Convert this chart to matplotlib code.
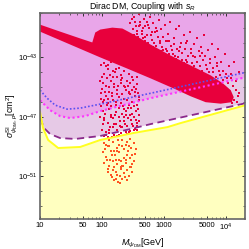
import numpy as np
import matplotlib
matplotlib.use("Agg")
import matplotlib.pyplot as plt
from matplotlib.ticker import FixedLocator, NullFormatter, FixedFormatter

plt.rcParams['font.family'] = ['Liberation Sans', 'DejaVu Sans']
plt.rcParams['mathtext.fontset'] = 'custom'
plt.rcParams['mathtext.rm'] = 'Liberation Sans'
plt.rcParams['mathtext.it'] = 'Liberation Sans:italic'

# ---- limit curves (log10 M [GeV], log10 sigma [cm^2]) ----
blue_lm = [1.0, 1.113, 1.243, 1.438, 1.648, 1.972, 2.783, 3.593, 4.32]
blue_ls = [-45.21, -45.75, -46.22, -46.49, -46.42, -46.15, -45.42, -44.68, -44.01]

mag_lm = [1.0, 1.162, 1.324, 1.486, 1.729, 1.972, 2.783, 3.593, 4.32]
mag_ls = [-45.89, -46.56, -46.96, -47.09, -46.96, -46.62, -45.75, -45.01, -44.34]

dash_lm = [1.0, 1.065, 1.162, 1.324, 1.567, 1.972, 2.459, 2.783, 3.593, 4.32]
dash_ls = [-47.09, -47.77, -48.17, -48.44, -48.50, -48.30, -47.83, -47.50, -46.76, -46.09]

yel_lm = [1.0, 1.049, 1.130, 1.292, 1.648, 1.972, 2.507, 3.058, 3.269, 4.32]
yel_ls = [-46.69, -47.77, -48.57, -49.11, -49.04, -48.57, -48.10, -47.70, -47.43, -46.22]

# ---- dense scan band (outline) ----
band_lm = [1.0, 1.324, 1.648, 1.843, 1.891, 1.972, 2.167, 2.329, 2.540, 2.783, 3.107,
           3.431, 3.755, 3.950, 4.079, 4.128, 4.096,
           3.917, 3.674, 3.431, 3.188, 2.783, 2.378, 1.972, 1.486, 1.0]
band_ls = [-40.79, -41.26, -41.72, -41.99, -41.32, -41.12, -40.99, -41.05, -41.52, -42.13, -42.87,
           -43.54, -44.21, -44.74, -45.21, -45.68, -46.02,
           -46.12, -46.02, -45.62, -45.15, -44.41, -43.70, -43.00, -42.13, -41.26]

# ---- scattered scan points ----
strip_lm = [1.98, 2.03, 2.09, 2.15, 2.21, 2.26, 2.33, 2.39, 2.45, 2.52, 2.58,
            2.00, 2.06, 2.12, 2.18, 2.24, 2.30, 2.36, 2.42, 2.48, 2.55,
            1.99, 2.05, 2.11, 2.17, 2.23, 2.29, 2.35, 2.41, 2.47, 2.53, 2.59,
            2.01, 2.07, 2.13, 2.19, 2.25, 2.31, 2.37, 2.44, 2.50, 2.57,
            2.03, 2.10, 2.16, 2.27, 2.40, 2.08, 2.27, 2.43, 2.14, 2.36, 2.49, 2.56,
            2.02, 2.20, 2.32, 2.46, 2.59, 1.98, 2.09, 2.27, 2.38, 2.52, 2.14, 2.20,
            2.33, 2.46, 2.56, 2.04, 1.97, 2.11, 2.24, 2.40, 2.53, 2.06, 2.17, 2.30,
            2.44, 2.35, 2.22, 2.02, 2.60, 2.49, 2.12, 2.28, 2.42, 2.16, 2.05, 2.57]
strip_ls = [-43.5, -44.1, -43.8, -44.6, -44.0, -44.9, -44.4, -45.2, -44.7, -45.0, -45.4,
            -45.1, -45.6, -45.3, -45.9, -45.5, -46.1, -45.8, -46.4, -46.0, -46.6,
            -46.3, -46.8, -46.5, -47.1, -46.7, -47.3, -47.0, -47.6, -47.2, -47.8, -46.9,
            -47.5, -48.0, -47.7, -48.2, -47.9, -48.1, -47.5, -48.0, -47.6, -47.4,
            -48.3, -48.4, -48.4, -48.25, -48.15, -44.4, -43.7, -44.1, -43.3, -43.9, -44.3, -44.3,
            -44.7, -45.0, -45.5, -45.5, -45.9, -45.8, -46.1, -46.4, -46.9, -46.3, -46.9, -47.5,
            -47.7, -47.95, -47.9, -47.2, -47.0, -45.0, -44.3, -44.6, -45.6, -43.6, -43.9, -44.7,
            -46.2, -46.5, -46.2, -46.0, -47.3, -46.8, -47.9, -47.0, -44.9, -45.6, -45.3, -46.2]

strip2_lm = [2.00, 2.07, 2.13, 2.19, 2.25, 2.31, 2.37, 2.43, 2.50, 2.56,
             1.98, 2.04, 2.10, 2.16, 2.22, 2.28, 2.34, 2.41, 2.47, 2.54, 2.60,
             2.01, 2.08, 2.14, 2.21, 2.27, 2.33, 2.39, 2.45, 2.51, 2.58,
             2.03, 2.09, 2.15, 2.22, 2.29, 2.35, 2.42, 2.48, 2.55,
             2.00, 2.06, 2.12, 2.18, 2.24, 2.31, 2.38, 2.44, 2.51, 2.57,
             1.97, 2.04, 2.10, 2.17, 2.23, 2.30, 2.36, 2.43, 2.49, 2.55]
strip2_ls = [-44.3, -44.9, -44.2, -44.8, -45.2, -44.5, -45.0, -45.4, -44.5, -44.8,
             -45.4, -45.9, -45.8, -45.4, -46.0, -45.7, -46.3, -45.9, -46.4, -45.3, -45.7,
             -46.6, -46.2, -46.3, -46.9, -46.4, -46.8, -46.6, -46.9, -47.0, -46.5,
             -47.1, -47.4, -47.0, -47.5, -47.6, -47.3, -47.1, -47.5, -47.2,
             -47.9, -48.2, -48.1, -47.7, -48.3, -47.7, -48.0, -48.1, -47.9, -47.6,
             -44.6, -43.4, -43.5, -44.3, -43.8, -44.2, -44.9, -45.3, -45.2, -45.1]

floor_lm = [2.03, 2.10, 2.18, 2.25, 2.32, 2.39, 2.46, 2.52,
            2.01, 2.07, 2.14, 2.21, 2.28, 2.35, 2.42, 2.49, 2.55,
            2.04, 2.11, 2.17, 2.24, 2.31, 2.38, 2.45, 2.51,
            2.09, 2.15, 2.22, 2.29, 2.36, 2.43, 2.48,
            2.19, 2.26, 2.33, 2.40,
            2.06, 2.28, 2.44, 2.13, 2.27, 2.40, 2.20, 2.34, 2.48, 2.12, 2.36, 2.23,
            2.05, 2.12, 2.19, 2.26, 2.33, 2.40, 2.47, 2.53,
            2.08, 2.16, 2.24, 2.31, 2.39, 2.46,
            2.10, 2.18, 2.25, 2.32, 2.41, 2.47,
            2.16, 2.23, 2.30, 2.37, 2.29]
floor_ls = [-48.8, -49.0, -48.7, -49.1, -48.6, -48.9, -48.5, -48.8,
            -49.4, -49.7, -49.3, -49.6, -49.4, -49.8, -49.3, -49.6, -49.2,
            -50.1, -50.3, -50.0, -50.2, -50.5, -50.1, -50.4, -50.0,
            -50.7, -50.9, -50.7, -51.0, -50.8, -51.0, -50.7,
            -51.3, -51.4, -51.2, -51.3,
            -48.9, -48.9, -49.0, -49.9, -49.9, -49.6, -50.4, -50.3, -50.2, -49.0, -49.2, -49.9,
            -49.2, -48.6, -49.3, -48.6, -49.0, -48.7, -49.1, -49.5,
            -49.9, -49.6, -49.3, -50.0, -49.9, -49.8,
            -50.5, -50.6, -50.9, -50.3, -50.6, -50.4,
            -51.1, -51.2, -50.4, -51.1, -51.5]

cloud_lm = [2.46, 2.50, 2.52, 2.55, 2.57, 2.60, 2.62, 2.64, 2.66, 2.68, 2.70, 2.72, 2.74, 2.76,
            2.78, 2.80, 2.83, 2.85, 2.87, 2.90, 2.92, 2.94, 2.96, 2.99, 3.01, 3.03, 3.05, 3.07,
            3.10, 3.12, 3.14, 3.16, 3.19, 3.21, 3.23, 3.25, 3.28, 3.30, 3.32, 3.35, 3.37, 3.39,
            3.42, 3.44, 3.46, 3.49, 3.51, 3.53, 3.56, 3.58, 3.60, 3.63, 3.65, 3.67, 3.70, 3.72,
            3.75, 3.77, 3.80, 3.82, 3.85, 3.87, 3.90, 3.93, 3.96, 3.99, 4.02, 4.05, 4.09, 4.13,
            4.17, 4.21,
            2.58, 2.70, 2.82, 2.95, 3.08, 3.20, 3.33, 3.45, 3.57, 3.69, 3.81, 3.93,
            2.64, 2.77, 2.90, 3.02, 3.15, 3.27, 3.40, 3.52, 3.64, 3.76, 3.88,
            4.16, 4.19, 4.14, 4.21, 4.18, 4.10]
cloud_ls = [-40.7, -41.1, -40.3, -40.9, -41.4, -40.1, -40.6, -41.2, -41.7, -40.4, -40.9, -41.5, -42.0, -41.0,
            -40.3, -41.8, -40.7, -41.3, -42.2, -41.6, -40.5, -42.0, -41.1, -42.5, -40.8, -41.9, -42.6, -41.4,
            -40.6, -42.2, -42.8, -41.7, -41.1, -42.4, -43.0, -40.9, -42.0, -42.7, -41.5, -43.2, -41.9, -42.9,
            -41.3, -42.4, -43.4, -42.1, -43.0, -41.7, -42.6, -43.6, -42.3, -43.2, -41.5, -42.9, -43.8, -42.5,
            -43.4, -42.1, -44.0, -43.0, -43.6, -42.4, -44.2, -43.3, -43.9, -42.8, -44.4, -43.6, -44.1, -43.3,
            -44.6, -44.0,
            -41.6, -41.9, -42.3, -42.6, -42.8, -43.1, -43.4, -43.7, -44.0, -44.3, -44.5, -44.8,
            -41.9, -42.4, -42.8, -43.0, -43.2, -43.5, -43.8, -44.1, -44.4, -44.7, -45.0,
            -45.2, -45.6, -45.9, -45.4, -46.0, -46.1]

cloud2_lm = [2.48, 2.53, 2.56, 2.61, 2.65, 2.69, 2.73, 2.79, 2.84, 2.88, 2.93, 2.97, 3.04, 3.09,
             3.13, 3.18, 3.24, 3.29, 3.34, 3.38, 3.43, 3.48, 3.54, 3.59, 3.62, 3.68, 3.73, 3.79,
             3.84, 3.89, 3.95, 4.00, 4.04, 4.08, 4.12,
             2.51, 2.59, 2.67, 2.75, 2.81, 2.89, 2.98, 3.06, 3.17, 3.26, 3.36, 3.47, 3.61, 3.74, 3.86]
cloud2_ls = [-40.4, -40.6, -41.2, -40.8, -41.4, -41.6, -40.6, -41.5, -42.0, -41.0, -41.9, -42.3, -42.4, -41.9,
             -42.5, -42.9, -42.6, -43.2, -42.4, -43.3, -42.7, -43.6, -43.3, -42.9, -43.9, -43.5, -44.0, -43.7,
             -44.3, -43.9, -44.5, -44.1, -44.7, -44.4, -44.9,
             -41.5, -40.9, -41.0, -40.8, -41.3, -41.2, -41.6, -41.9, -42.1, -42.3, -42.0, -42.9, -42.7, -43.1, -43.4]

xtick_vals = [10, 50, 100, 500, 1000, 5000, 10000]
xtick_labels = ['10', '50', '100', '500', '1000', '5000', r'10$^{4}$']
ytick_vals = [1e-43, 1e-47, 1e-51]
ytick_labels = [r'10$^{-43}$', r'10$^{-47}$', r'10$^{-51}$']

P = lambda a: np.power(10.0, np.asarray(a, dtype=float))

fig = plt.figure(figsize=(2.49, 2.49), dpi=100)
ax = fig.add_axes([0.161, 0.1205, 0.823, 0.8275])
ax.set_xscale('log')
ax.set_yscale('log')
xmin, xmax = 10.0, 10**4.31
ymin, ymax = 10**-53.9, 1e-40
ax.set_xlim(xmin, xmax)
ax.set_ylim(ymin, ymax)
ax.set_facecolor('#E9A6E9')

# fills
ax.fill(np.concatenate([P(mag_lm), P(dash_lm)[::-1]]),
        np.concatenate([P(mag_ls), P(dash_ls)[::-1]]), color='#E6C9E6', lw=0, zorder=1)
ax.fill(np.concatenate([P(dash_lm), P(yel_lm)[::-1]]),
        np.concatenate([P(dash_ls), P(yel_ls)[::-1]]), color='white', lw=0, zorder=1)
ax.fill(np.concatenate([P(yel_lm), [xmax * 2, xmin]]),
        np.concatenate([P(yel_ls), [ymin / 10, ymin / 10]]), color='#FFFFC0', lw=0, zorder=1)

# band and points
red = '#E8003C'
ms = 3.0
ax.fill(P(band_lm), P(band_ls), color=red, lw=0, zorder=3)
for xs, ys, c in [(cloud_lm, cloud_ls, red), (cloud2_lm, cloud2_ls, red),
                  (strip_lm, strip_ls, red), (strip2_lm, strip2_ls, red),
                  (floor_lm, floor_ls, '#FF5522')]:
    ax.scatter(P(xs), P(ys), s=ms, marker='s', color=c, lw=0, zorder=3)

# lines
ax.plot(P(blue_lm), P(blue_ls), color='#5A50F0', lw=1.2, ls=(0, (1, 1.2)), zorder=4)
ax.plot(P(mag_lm), P(mag_ls), color='#FF33FF', lw=1.5, ls=(0, (1, 1.3)), zorder=4)
ax.plot(P(dash_lm), P(dash_ls), color='#8B2A8B', lw=1.3, ls=(0, (4, 2.5)), zorder=4)
ax.plot(P(yel_lm), P(yel_ls), color='#FFFF20', lw=1.4, zorder=4)

# ticks
ax.xaxis.set_major_locator(FixedLocator(xtick_vals))
ax.xaxis.set_major_formatter(FixedFormatter(xtick_labels))
minor_x = [v * m for v in [10, 100, 1000, 10000] for m in range(2, 10) if v * m < xmax and v * m not in xtick_vals]
ax.xaxis.set_minor_locator(FixedLocator(minor_x))
ax.xaxis.set_minor_formatter(NullFormatter())
ax.yaxis.set_major_locator(FixedLocator(ytick_vals))
ax.yaxis.set_major_formatter(FixedFormatter(ytick_labels))
ax.yaxis.set_minor_locator(FixedLocator([10.0**k for k in range(-53, -39) if k not in (-43, -47, -51)]))
ax.yaxis.set_minor_formatter(NullFormatter())
ax.tick_params(which='both', direction='in', top=True, right=True, color='#333333',
               labelsize=5.5, pad=2)
ax.tick_params(which='major', length=2.5, width=0.7)
ax.tick_params(which='minor', length=1.5, width=0.5)
for sp in ax.spines.values():
    sp.set_color('#666666')
    sp.set_linewidth(1.2)
    sp.set_zorder(5)

ax.set_title(r'Dirac DM, Coupling with $s_R$', fontsize=6.3, pad=3)
ax.set_xlabel(r'$M_{\psi_{\rm DM}}$[GeV]', fontsize=6.5, labelpad=3)
ax.set_ylabel(r'$\sigma^{\rm SI}_{\psi_{\rm DM},p}$[cm$^2$]', fontsize=6.3, labelpad=0)
ax.yaxis.set_label_coords(-0.105, 0.5)

fig.savefig('out.png', dpi=100)
